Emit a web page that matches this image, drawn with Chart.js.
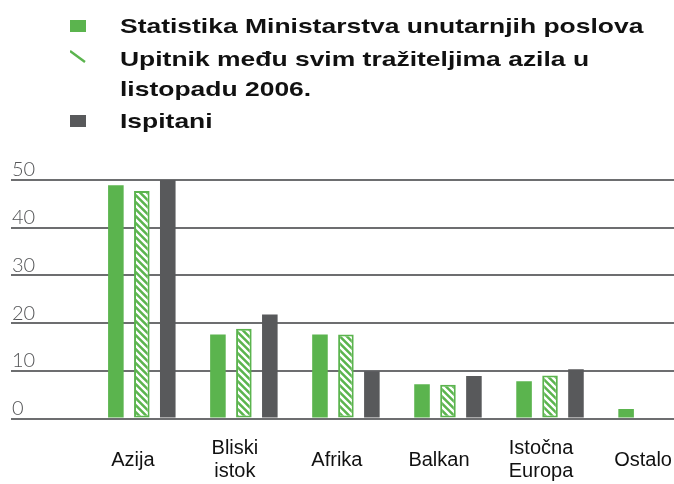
<!DOCTYPE html>
<html>
<head>
<meta charset="utf-8">
<script src="https://cdn.jsdelivr.net/npm/chart.js@4"></script>
<style>
  html, body { margin: 0; padding: 0; background: #fff; }
  #wrap { position: relative; width: 674px; height: 484px; overflow: hidden; }
  #chartBox { position: absolute; left: 0; top: 0; width: 674px; height: 520px; }
  #legend { position: absolute; left: 70px; top: 11px; font-family: "Liberation Sans", Arial, sans-serif; font-weight: bold; font-size: 21px; line-height: 30px; color: #111; }
  .item { position: relative; padding-left: 50px; margin-bottom: 2.5px; }
  .mark { position: absolute; left: 0; top: 9px; width: 16px; height: 12px; }
  .txt { display: block; width: 420px; transform: scaleX(1.26); transform-origin: left top; }
</style>
</head>
<body>
<div id="wrap">
  <div id="chartBox"><canvas id="myChart"></canvas></div>
  <div id="legend"></div>
</div>
<script>
const categories = [["Azija"], ["Bliski", "istok"], ["Afrika"], ["Balkan"], ["Istočna", "Europa"], ["Ostalo"]];
const seriesNames = ["Statistika Ministarstva unutarnjih poslova", "Upitnik među svim tražiteljima azila u listopadu 2006.", "Ispitani"];
const ministarstvo = [48.9, 17.6, 17.6, 7.2, 7.8, 2.0];
const upitnik = [47.7, 18.8, 17.6, 7.1, 9.0, null];
const ispitani = [50, 21.8, 9.9, 8.9, 10.3, null];
const yTicks = [0, 10, 20, 30, 40, 50];

const GREEN = "#5bb44e";
const GRAY = "#58595b";

function hatch(color) {
    const s = 7;
    const c = document.createElement('canvas');
    c.width = s; c.height = s;
    const g = c.getContext('2d');
    g.fillStyle = color;
    g.fillRect(0, 0, s, s);
    g.strokeStyle = "#fff";
    g.lineWidth = 2.4;
    g.beginPath();
    g.moveTo(-1, -1); g.lineTo(s + 1, s + 1);
    g.moveTo(s - 1, -1); g.lineTo(s + 1, 1);
    g.moveTo(-1, s - 1); g.lineTo(1, s + 1);
    g.stroke();
    return g.createPattern(c, 'repeat');
}

// legend in html, texts wrap like the original
const legendMarks = [
    '<div class="mark" style="background:' + GREEN + '"></div>',
    '<svg class="mark" style="top:6px;height:14px" viewBox="0 0 16 14"><line x1="0" y1="1" x2="15" y2="12" stroke="' + GREEN + '" stroke-width="2.4"/></svg>',
    '<div class="mark" style="background:' + GRAY + '"></div>'
];
document.getElementById('legend').innerHTML = seriesNames.map((n, i) =>
    '<div class="item">' + legendMarks[i] + '<span class="txt">' + n + '</span></div>').join('');

const ctx = document.getElementById('myChart');

const myChart = new Chart(ctx, {
    type: 'bar',
    data: {
        labels: categories.map((c, i) => i),
        datasets: [{
            label: seriesNames[0],
            data: ministarstvo,
            backgroundColor: GREEN,
            borderWidth: 0
        }, {
            label: seriesNames[1],
            data: upitnik,
            backgroundColor: hatch(GREEN),
            borderColor: GREEN,
            borderWidth: 2,
            borderSkipped: false
        }, {
            label: seriesNames[2],
            data: ispitani,
            backgroundColor: GRAY,
            borderWidth: 0
        }]
    },
    options: {
        responsive: true,
        maintainAspectRatio: false,
        animation: false,
        categoryPercentage: 0.763,
        barPercentage: 0.6,
        layout: {
            padding: { left: 9, right: 0, top: 180, bottom: 3.5 }
        },
        plugins: {
            legend: { display: false },
            tooltip: { enabled: false }
        },
        scales: {
            x: {
                type: 'linear',
                offset: false,
                min: -1.282,
                max: 5.215,
                afterBuildTicks: axis => { axis.ticks = categories.map((c, i) => ({ value: i })); },
                afterFit: axis => { axis.paddingLeft = 0; axis.paddingRight = 0; },
                grid: { display: false },
                border: { display: false },
                ticks: {
                    autoSkip: false,
                    maxRotation: 0,
                    padding: 22,
                    labelOffset: -9,
                    crossAlign: 'center',
                    color: "#111",
                    font: { family: "'Liberation Sans', Arial, sans-serif", size: 20, lineHeight: 1.15 },
                    callback: v => categories[v]
                }
            },
            y: {
                min: 0,
                max: 50,
                afterBuildTicks: axis => { axis.ticks = yTicks.map(v => ({ value: v })); },
                grid: {
                    color: "#6d6e70",
                    lineWidth: 2,
                    drawTicks: false
                },
                border: { display: false },
                ticks: {
                    mirror: true,
                    padding: 1,
                    labelOffset: -10,
                    color: "#545557",
                    font: { family: "Lato, 'Open Sans', sans-serif", size: 20, weight: 300 }
                }
            }
        }
    }
});
</script>
</body>
</html>
